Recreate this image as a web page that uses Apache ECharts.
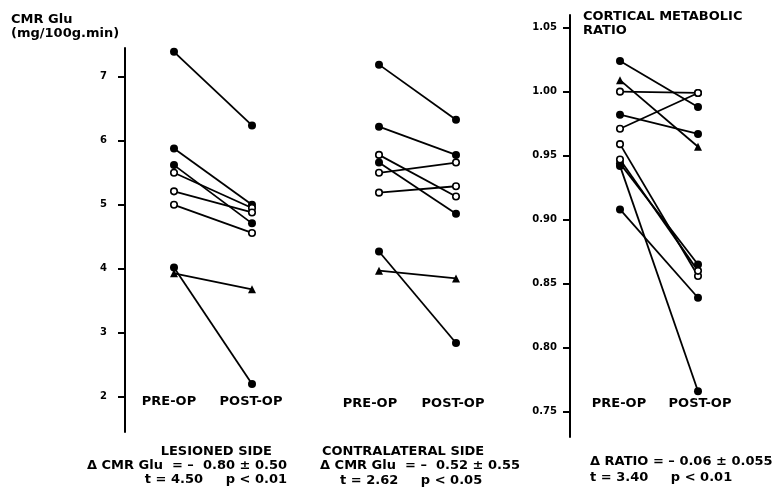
<!DOCTYPE html>
<html><head><meta charset="utf-8">
<script src="https://cdn.jsdelivr.net/npm/echarts@6/dist/echarts.min.js"></script>
<style>html,body{margin:0;padding:0;background:#fff}#c{width:779px;height:500px}</style>
</head><body><div id="c"></div>
<script>
// ---- data ----
const phases = ['PRE-OP', 'POST-OP'];
// marker types: F = filled circle, O = open circle, T = triangle
const lesionedMarkers = ['F','F','F','O','O','O','F','T'];
const lesionedPre  = [7.39, 5.88, 5.62, 5.50, 5.21, 5.00, 4.02, 3.93];
const lesionedPost = [6.24, 5.00, 4.71, 4.95, 4.88, 4.56, 2.20, 3.68];
const contraMarkers = ['F','F','O','F','O','O','F','T'];
const contraPre  = [7.19, 6.22, 5.78, 5.66, 5.50, 5.19, 4.27, 3.97];
const contraPost = [6.33, 5.78, 5.13, 4.86, 5.66, 5.29, 2.84, 3.85];
const ratioMarkers = ['F','T','O','F','O','O','O','F','F','F'];
const ratioPre  = [1.024, 1.009, 1.000, 0.982, 0.971, 0.959, 0.947, 0.944, 0.942, 0.908];
const ratioPost = [0.988, 0.957, 0.999, 0.967, 0.999, 0.856, 0.860, 0.865, 0.766, 0.839];
const cmrTicks = [2, 3, 4, 5, 6, 7];
const ratioTicks = [0.75, 0.80, 0.85, 0.90, 0.95, 1.00, 1.05];

const chart = echarts.init(document.getElementById('c'), null, {renderer: 'canvas'});
const FF = 'DejaVu Sans';

function makeSeries(pre, post, markers, gi) {
  return pre.map((p, i) => {
    const m = markers[i];
    return {
      type: 'line', xAxisIndex: gi, yAxisIndex: gi,
      data: [[1, p], [2, post[i]]],
      symbol: m === 'T' ? 'triangle' : 'circle',
      symbolSize: m === 'T' ? 8 : (m === 'O' ? 6.5 : 8),
      showSymbol: true, silent: true, animation: false,
      lineStyle: {color: '#000', width: 1.8},
      itemStyle: {color: m === 'O' ? '#fff' : '#000', borderColor: '#000', borderWidth: m === 'O' ? 1.6 : 0},
      z: m === 'O' ? 4 : 3
    };
  });
}

function yAxisCfg(gi, min, max, ticks, fmt, margin, show) {
  return {
    type: 'value', gridIndex: gi, min: min, max: max, show: show,
    axisLine: {show: true, lineStyle: {color: '#000', width: 2}},
    axisTick: {show: true, length: 7, customValues: ticks, lineStyle: {color: '#000', width: 2}},
    axisLabel: {show: true, customValues: ticks, margin: margin, color: '#000',
      fontFamily: FF, fontWeight: 'bold', fontSize: 10, formatter: fmt},
    splitLine: {show: false}
  };
}

function xAxisCfg(gi, min, max) {
  return {type: 'value', gridIndex: gi, min: min, max: max, show: false};
}

function txt(x, y, s, align, size) {
  return {type: 'text', x: x, y: y, silent: true,
    style: {text: s, fill: '#000', font: 'bold ' + (size || 13) + 'px "' + FF + '"',
      textAlign: align || 'left', textVerticalAlign: 'middle'}};
}

const option = {
  backgroundColor: '#fff',
  animation: false,
  grid: [
    {left: 125, top: 48, width: 166, height: 384},
    {left: 340.5, top: 48, width: 154, height: 384},
    {left: 570, top: 15, width: 167, height: 422}
  ],
  xAxis: [xAxisCfg(0, 0.3718, 2.5), xAxisCfg(1, 0.5, 2.5), xAxisCfg(2, 0.359, 2.5)],
  yAxis: [
    yAxisCfg(0, 1.45, 7.45, cmrTicks, v => String(v), 18, true),
    yAxisCfg(1, 1.45, 7.45, cmrTicks, v => String(v), 18, false),
    yAxisCfg(2, 0.7302, 1.0599, ratioTicks, v => v.toFixed(2), 13, true)
  ],
  series: [].concat(
    makeSeries(lesionedPre, lesionedPost, lesionedMarkers, 0),
    makeSeries(contraPre, contraPost, contraMarkers, 1),
    makeSeries(ratioPre, ratioPost, ratioMarkers, 2)
  ),
  graphic: [
    {type: 'text', x: 11, y: 13, silent: true, style: {text: 'CMR Glu\n(mg/100g.min)', fill: '#000',
      font: 'bold 13px "DejaVu Sans"', lineHeight: 14}},
    {type: 'text', x: 583, y: 10, silent: true, style: {text: 'CORTICAL METABOLIC\nRATIO', fill: '#000',
      font: 'bold 13px "DejaVu Sans"', lineHeight: 14}},
    txt(169, 402, phases[0], 'center'), txt(251, 402, phases[1], 'center'),
    txt(370, 404, phases[0], 'center'), txt(453, 404, phases[1], 'center'),
    txt(619, 404, phases[0], 'center'), txt(700, 404, phases[1], 'center'),
    txt(272, 452, 'LESIONED SIDE', 'right'),
    txt(287, 466, '\u0394 CMR Glu  = \u2013  0.80 \u00B1 0.50', 'right'),
    txt(287, 480, 't = 4.50     p < 0.01', 'right'),
    txt(322, 452, 'CONTRALATERAL SIDE', 'left'),
    txt(320, 466, '\u0394 CMR Glu  = \u2013  0.52 \u00B1 0.55', 'left'),
    txt(340, 481, 't = 2.62     p < 0.05', 'left'),
    txt(590, 462, '\u0394 RATIO = \u2013 0.06 \u00B1 0.055', 'left'),
    txt(590, 478, 't = 3.40     p < 0.01', 'left')
  ]
};
chart.setOption(option);
</script>
</body></html>
